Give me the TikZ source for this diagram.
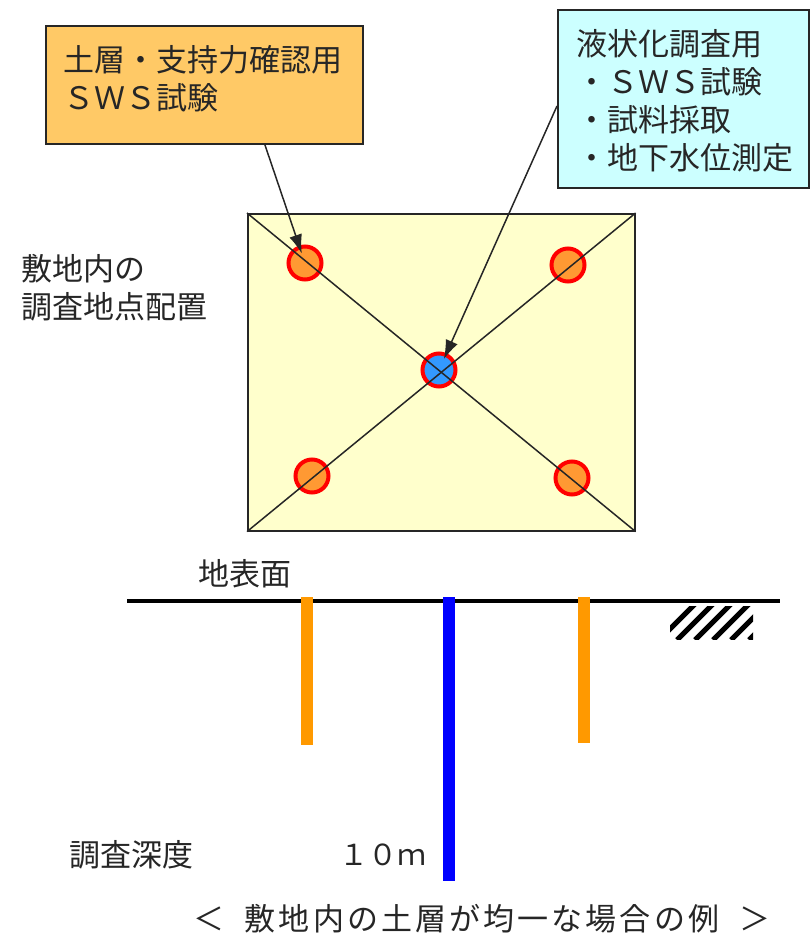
\documentclass[tikz,border=0pt]{standalone}
\usepackage{fontspec}
\setmainfont{Noto Sans CJK JP}
\usetikzlibrary{calc,arrows.meta}
\definecolor{boxorange}{RGB}{255,201,102}
\definecolor{boxcyan}{RGB}{204,255,255}
\definecolor{yardyellow}{RGB}{255,255,204}
\definecolor{siteorange}{RGB}{255,153,51}
\definecolor{siteblue}{RGB}{51,153,255}
\definecolor{stakeorange}{RGB}{255,153,0}
\definecolor{stakeblue}{RGB}{0,0,255}
\tikzset{
  callout/.style={draw=black!85,line width=1.6pt,inner sep=0pt,anchor=north west},
  lab/.style={inner sep=0pt,align=left,anchor=north west,font=\fontsize{31}{38}\selectfont,text=black!85},
  site/.style={circle,draw=red,line width=4pt,fill=#1,minimum size=33pt,inner sep=0pt},
  stake/.style={line width=12pt,draw=#1},
  thinline/.style={draw=black!85,line width=1.5pt},
  ptr/.style={thinline,-{Latex[length=19pt,width=13pt]}}
}
\begin{document}
\begin{tikzpicture}[x=1pt,y=-1pt]
\useasboundingbox (0,0) rectangle (809,936);
\node[callout,fill=boxorange,minimum width=317pt,minimum height=118pt] (boxA) at (45,25) {};
\node[callout,fill=boxcyan,minimum width=251pt,minimum height=178pt] (boxB) at (557,9) {};
\node[lab] (ta) at (63,45) {土層・支持力確認用\\ＳＷＳ試験};
\node[lab] (tb) at (576,29) {液状化調査用\\・ＳＷＳ試験\\・試料採取\\・地下水位測定};
\node[callout,fill=yardyellow,minimum width=387pt,minimum height=317pt] (yard) at (247,213) {};
\node[lab] (tc) at (21,254) {敷地内の\\調査地点配置};
\node[site=siteorange] (c1) at (305,263) {};
\node[site=siteorange] (c2) at (568,265) {};
\node[site=siteorange] (c3) at (312,476) {};
\node[site=siteorange] (c4) at (572,478) {};
\node[site=siteblue] (c5) at (439,370) {};
\draw[thinline] (yard.north west) -- (yard.south east);
\draw[thinline] (yard.north east) -- (yard.south west);
\draw[ptr,shorten >=10pt] ($(boxA.south west)!0.69!(boxA.south east)$) -- (c1.center);
\draw[ptr,shorten >=12pt] ($(boxB.north west)!0.54!(boxB.south west)$) -- (c5.center);
\node[inner sep=0pt,anchor=center,font=\fontsize{31}{38}\selectfont,text=black!85] (td) at (245,574) {地表面};
\coordinate (g1) at (127,601);
\coordinate (g2) at (780,601);
\draw[line width=3.5pt,black] (g1) -- (g2);
\draw[stake=stakeorange] (307,597) coordinate (s1a) -- (307,745) coordinate (s1b);
\draw[stake=stakeblue] (449,597) coordinate (s2a) -- (449,881) coordinate (s2b);
\draw[stake=stakeorange] (584,597) coordinate (s3a) -- (584,743) coordinate (s3b);
\begin{scope}
\clip (670,606) rectangle (753,639);
\foreach \k in {0,...,6}{
  \draw[line width=5pt,black] ({659+18*\k},640) -- ({659+18*\k+36},604);
}
\end{scope}
\node[lab,anchor=center] (te) at (131,855) {調査深度};
\node[lab,anchor=center,font=\fontsize{29}{38}\selectfont] (tf) at (383,855) {１０ｍ};
\node[lab,anchor=center] (tg) at (482,919) {\addfontfeatures{LetterSpace=10}＜\hspace{20pt}敷地内の土層が均一な場合の例\hspace{20pt}＞};
\end{tikzpicture}
\end{document}
